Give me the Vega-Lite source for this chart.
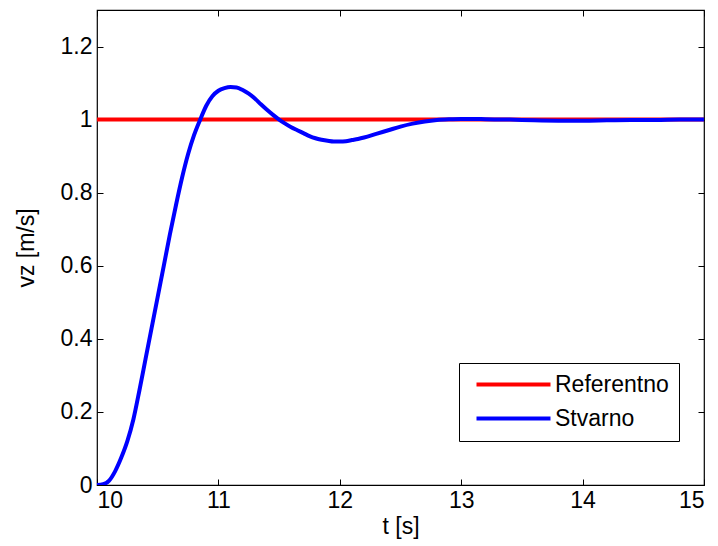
{
  "$schema": "https://vega.github.io/schema/vega-lite/v6.json",
  "autosize": {"type": "none"},
  "padding": {"left": 97, "top": 10, "right": 14, "bottom": 61},
  "width": 607,
  "height": 475,
  "background": "white",
  "config": {
    "font": "Liberation Sans",
    "view": {"stroke": "black", "strokeWidth": 1.2},
    "axis": {
      "labelFont": "Liberation Sans",
      "titleFont": "Liberation Sans",
      "labelFontSize": 23,
      "titleFontSize": 23,
      "labelColor": "black",
      "titleColor": "black",
      "titleFontWeight": "normal",
      "grid": false,
      "domain": false,
      "tickColor": "black",
      "tickSize": -6,
      "tickWidth": 1,
      "format": "~g"
    }
  },
  "datasets": {
    "lines": [
      {"t": 10.0, "v": 1.0, "series": "Referentno"},
      {"t": 15.0, "v": 1.0, "series": "Referentno"},
      {"t": 10.00, "v": 0.0, "series": "Stvarno"},
      {"t": 10.05, "v": 0.002, "series": "Stvarno"},
      {"t": 10.10, "v": 0.012, "series": "Stvarno"},
      {"t": 10.15, "v": 0.038, "series": "Stvarno"},
      {"t": 10.20, "v": 0.075, "series": "Stvarno"},
      {"t": 10.25, "v": 0.12, "series": "Stvarno"},
      {"t": 10.30, "v": 0.18, "series": "Stvarno"},
      {"t": 10.35, "v": 0.26, "series": "Stvarno"},
      {"t": 10.40, "v": 0.345, "series": "Stvarno"},
      {"t": 10.45, "v": 0.43, "series": "Stvarno"},
      {"t": 10.50, "v": 0.515, "series": "Stvarno"},
      {"t": 10.55, "v": 0.6, "series": "Stvarno"},
      {"t": 10.60, "v": 0.685, "series": "Stvarno"},
      {"t": 10.65, "v": 0.765, "series": "Stvarno"},
      {"t": 10.70, "v": 0.84, "series": "Stvarno"},
      {"t": 10.75, "v": 0.905, "series": "Stvarno"},
      {"t": 10.80, "v": 0.958, "series": "Stvarno"},
      {"t": 10.85, "v": 1.0, "series": "Stvarno"},
      {"t": 10.90, "v": 1.038, "series": "Stvarno"},
      {"t": 10.95, "v": 1.064, "series": "Stvarno"},
      {"t": 11.00, "v": 1.079, "series": "Stvarno"},
      {"t": 11.05, "v": 1.086, "series": "Stvarno"},
      {"t": 11.10, "v": 1.089, "series": "Stvarno"},
      {"t": 11.15, "v": 1.088, "series": "Stvarno"},
      {"t": 11.20, "v": 1.081, "series": "Stvarno"},
      {"t": 11.25, "v": 1.071, "series": "Stvarno"},
      {"t": 11.30, "v": 1.058, "series": "Stvarno"},
      {"t": 11.35, "v": 1.042, "series": "Stvarno"},
      {"t": 11.40, "v": 1.027, "series": "Stvarno"},
      {"t": 11.45, "v": 1.013, "series": "Stvarno"},
      {"t": 11.50, "v": 1.0, "series": "Stvarno"},
      {"t": 11.55, "v": 0.989, "series": "Stvarno"},
      {"t": 11.60, "v": 0.979, "series": "Stvarno"},
      {"t": 11.65, "v": 0.971, "series": "Stvarno"},
      {"t": 11.70, "v": 0.963, "series": "Stvarno"},
      {"t": 11.75, "v": 0.955, "series": "Stvarno"},
      {"t": 11.80, "v": 0.949, "series": "Stvarno"},
      {"t": 11.85, "v": 0.945, "series": "Stvarno"},
      {"t": 11.90, "v": 0.942, "series": "Stvarno"},
      {"t": 11.95, "v": 0.940, "series": "Stvarno"},
      {"t": 12.00, "v": 0.940, "series": "Stvarno"},
      {"t": 12.05, "v": 0.941, "series": "Stvarno"},
      {"t": 12.10, "v": 0.944, "series": "Stvarno"},
      {"t": 12.15, "v": 0.947, "series": "Stvarno"},
      {"t": 12.20, "v": 0.951, "series": "Stvarno"},
      {"t": 12.30, "v": 0.961, "series": "Stvarno"},
      {"t": 12.40, "v": 0.971, "series": "Stvarno"},
      {"t": 12.50, "v": 0.981, "series": "Stvarno"},
      {"t": 12.60, "v": 0.989, "series": "Stvarno"},
      {"t": 12.70, "v": 0.995, "series": "Stvarno"},
      {"t": 12.80, "v": 0.999, "series": "Stvarno"},
      {"t": 12.90, "v": 1.001, "series": "Stvarno"},
      {"t": 13.00, "v": 1.002, "series": "Stvarno"},
      {"t": 13.10, "v": 1.002, "series": "Stvarno"},
      {"t": 13.20, "v": 1.001, "series": "Stvarno"},
      {"t": 13.40, "v": 1.0, "series": "Stvarno"},
      {"t": 13.60, "v": 0.998, "series": "Stvarno"},
      {"t": 13.80, "v": 0.997, "series": "Stvarno"},
      {"t": 14.00, "v": 0.997, "series": "Stvarno"},
      {"t": 14.20, "v": 0.998, "series": "Stvarno"},
      {"t": 14.40, "v": 0.999, "series": "Stvarno"},
      {"t": 14.60, "v": 0.999, "series": "Stvarno"},
      {"t": 14.80, "v": 1.0, "series": "Stvarno"},
      {"t": 15.00, "v": 1.0, "series": "Stvarno"}
    ]
  },
  "data": {"name": "lines"},
  "layer": [
    {
      "mark": {"type": "line", "strokeWidth": 4, "clip": true, "interpolate": "monotone"},
      "encoding": {
        "x": {
          "field": "t", "type": "quantitative",
          "scale": {"domain": [10, 15], "nice": false, "zero": false},
          "axis": {"orient": "bottom", "values": [10, 11, 12, 13, 14, 15], "title": "t [s]", "labelPadding": 10, "titlePadding": 3}
        },
        "y": {
          "field": "v", "type": "quantitative",
          "scale": {"domain": [0, 1.3], "nice": false},
          "axis": {"orient": "left", "values": [0, 0.2, 0.4, 0.6, 0.8, 1, 1.2], "title": "vz [m/s]", "labelPadding": 11, "titlePadding": 22}
        },
        "color": {
          "field": "series", "type": "nominal",
          "scale": {"domain": ["Referentno", "Stvarno"], "range": ["#ff0000", "#0000ff"]},
          "legend": {
            "title": null,
            "orient": "none",
            "legendX": 362,
            "legendY": 353,
            "direction": "vertical",
            "symbolType": "M-5,0H5",
            "symbolSize": 219,
            "symbolStrokeWidth": 4,
            "symbolOffset": 33,
            "labelFontSize": 23,
            "labelFont": "Liberation Sans",
            "labelColor": "black",
            "labelOffset": 30,
            "strokeColor": "black",
            "fillColor": "white",
            "padding": 10,
            "rowPadding": 10
          }
        },
        "order": {"field": "series"}
      }
    },
    {
      "mark": {"type": "line", "opacity": 0},
      "encoding": {
        "x": {
          "field": "t", "type": "quantitative",
          "scale": {"domain": [10, 15], "nice": false, "zero": false},
          "axis": {"orient": "top", "values": [10, 11, 12, 13, 14, 15], "labels": false, "title": null}
        },
        "y": {
          "field": "v", "type": "quantitative",
          "scale": {"domain": [0, 1.3], "nice": false},
          "axis": {"orient": "right", "values": [0, 0.2, 0.4, 0.6, 0.8, 1, 1.2], "labels": false, "title": null}
        }
      }
    }
  ],
  "resolve": {"axis": {"x": "independent", "y": "independent"}}
}
